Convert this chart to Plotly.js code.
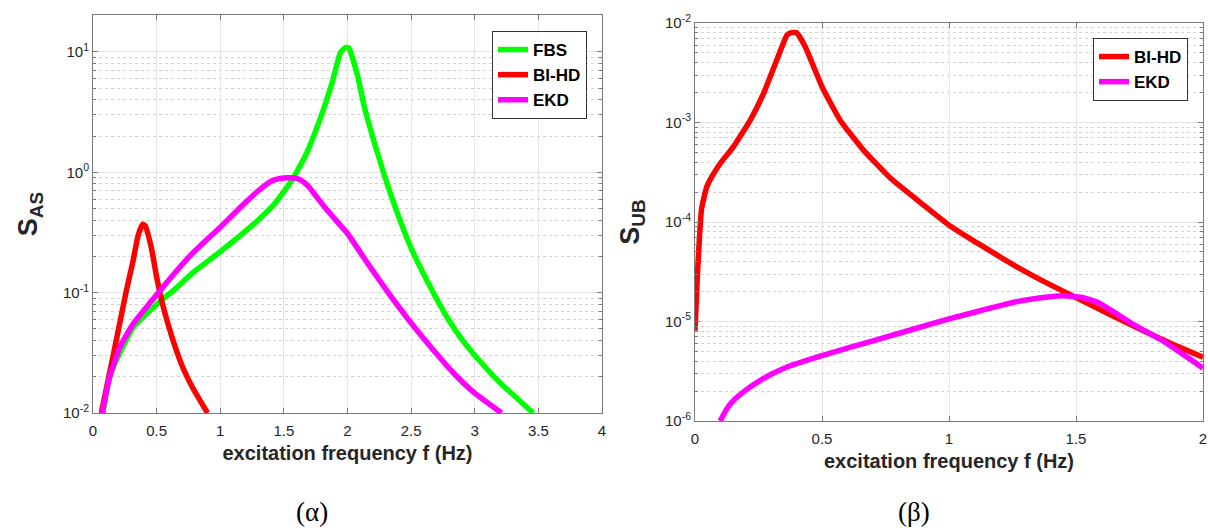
<!DOCTYPE html>
<html>
<head>
<meta charset="utf-8">
<script src="https://cdn.plot.ly/plotly-3.0.1.min.js"></script>
<style>html,body{margin:0;padding:0;background:#fff;}#chart{width:1208px;height:530px;}</style>
</head>
<body>
<div id="chart"></div>
<script>
// ---- Data ----
// Panel (α)
const freqFBS = [0.078, 0.117, 0.157, 0.313, 0.5, 0.653, 0.783, 1.0, 1.175, 1.305, 1.436, 1.567, 1.67, 1.775, 1.88, 1.945, 1.985, 2.01, 2.08, 2.13, 2.21, 2.29, 2.37, 2.5, 2.65, 2.78, 2.9, 3.0, 3.2, 3.46];
const sFBS    = [0.01, 0.0174, 0.0238, 0.051, 0.0796, 0.109, 0.146, 0.219, 0.309, 0.407, 0.562, 0.871, 1.38, 2.6, 5.6, 9.9, 10.9, 10.8, 6.3, 3.58, 1.78, 0.94, 0.53, 0.234, 0.112, 0.063, 0.0407, 0.0302, 0.0178, 0.01];

const freqBIHDa = [0.065, 0.157, 0.261, 0.313, 0.355, 0.39, 0.41, 0.457, 0.50, 0.55, 0.627, 0.705, 0.783, 0.90];
const sBIHDa    = [0.01, 0.0294, 0.1026, 0.18, 0.30, 0.37, 0.36, 0.24, 0.135, 0.0776, 0.0407, 0.024, 0.0162, 0.01];

const freqEKDa = [0.073, 0.13, 0.209, 0.313, 0.5, 0.653, 0.783, 1.0, 1.175, 1.305, 1.41, 1.5, 1.55, 1.6, 1.65, 1.7, 1.75, 1.83, 1.9, 2.0, 2.157, 2.313, 2.5, 2.678, 2.835, 3.0, 3.21];
const sEKDa    = [0.01, 0.0197, 0.035, 0.0545, 0.096, 0.15, 0.213, 0.35, 0.533, 0.71, 0.853, 0.897, 0.9, 0.89, 0.84, 0.75, 0.64, 0.50, 0.41, 0.31, 0.176, 0.1026, 0.056, 0.0331, 0.0214, 0.0146, 0.01];

// Panel (β)
const freqBIHDb = [0, 0.009, 0.026, 0.046, 0.066, 0.099, 0.151, 0.217, 0.27, 0.322, 0.362, 0.38, 0.40, 0.434, 0.5, 0.572, 0.664, 0.77, 0.9, 1.0, 1.13, 1.26, 1.39, 1.5, 1.65, 1.78, 1.9, 2.0];
const sBIHDb    = [8.1e-6, 2.8e-5, 1.36e-4, 2.25e-4, 2.84e-4, 3.87e-4, 5.69e-4, 1.05e-3, 1.96e-3, 4.25e-3, 7.57e-3, 8.0e-3, 8.0e-3, 5.78e-3, 2.29e-3, 1.05e-3, 5.25e-4, 2.75e-4, 1.48e-4, 9.3e-5, 5.75e-5, 3.63e-5, 2.4e-5, 1.74e-5, 1.12e-5, 7.76e-6, 5.62e-6, 4.37e-6];

const freqEKDb = [0.099, 0.125, 0.151, 0.2, 0.243, 0.3, 0.375, 0.5, 0.704, 1.0, 1.127, 1.26, 1.39, 1.45, 1.52, 1.587, 1.65, 1.718, 1.85, 2.0];
const sEKDb    = [1e-6, 1.32e-6, 1.6e-6, 2.04e-6, 2.43e-6, 2.95e-6, 3.59e-6, 4.55e-6, 6.44e-6, 1.06e-5, 1.29e-5, 1.57e-5, 1.76e-5, 1.81e-5, 1.75e-5, 1.55e-5, 1.24e-5, 9.6e-6, 6.2e-6, 3.4e-6];

// Tick labels
const xTicksA = [0, 0.5, 1, 1.5, 2, 2.5, 3, 3.5, 4];
const xTicksB = [0, 0.5, 1, 1.5, 2];
const yExpA = [-2, -1, 0, 1];
const yExpB = [-6, -5, -4, -3, -2];
const legendNamesA = ['FBS', 'BI-HD', 'EKD'];
const legendNamesB = ['BI-HD', 'EKD'];

// ---- Helpers ----
const GREEN = '#00ff00', RED = '#ff0000', MAGENTA = '#ff00ff';
const FONT = '"Liberation Sans", Arial, Helvetica, sans-serif';
function pow10Label(e) { return '10<sup>' + (e < 0 ? '-' : '') + Math.abs(e) + '</sup>'; }
function minorVals(e0, e1) {
  const v = [];
  for (let e = e0; e < e1 + 1; e++) for (let k = 2; k <= 9; k++) v.push(k * Math.pow(10, e));
  return v;
}
const lineStyle = (c) => ({ color: c, width: 5.5, shape: 'spline', smoothing: 0.4 });

const traces = [
  { x: freqFBS, y: sFBS, name: legendNamesA[0], mode: 'lines', line: lineStyle(GREEN), xaxis: 'x', yaxis: 'y', legend: 'legend' },
  { x: freqBIHDa, y: sBIHDa, name: legendNamesA[1], mode: 'lines', line: lineStyle(RED), xaxis: 'x', yaxis: 'y', legend: 'legend' },
  { x: freqEKDa, y: sEKDa, name: legendNamesA[2], mode: 'lines', line: lineStyle(MAGENTA), xaxis: 'x', yaxis: 'y', legend: 'legend' },
  { x: freqBIHDb, y: sBIHDb, name: legendNamesB[0], mode: 'lines', line: lineStyle(RED), xaxis: 'x2', yaxis: 'y2', legend: 'legend2' },
  { x: freqEKDb, y: sEKDb, name: legendNamesB[1], mode: 'lines', line: lineStyle(MAGENTA), xaxis: 'x2', yaxis: 'y2', legend: 'legend2' }
];

const W = 1208, H = 530;
const axisCommon = {
  showline: true, linecolor: '#7a7a7a', linewidth: 1, mirror: 'allticks',
  ticks: 'inside', ticklen: 5, tickcolor: '#7a7a7a',
  tickfont: { family: FONT, size: 15, color: '#262626' },
  showgrid: true, gridcolor: '#e4e4e4', gridwidth: 1, zeroline: false
};
const xTitle = { text: 'excitation frequency f (Hz)', font: { family: FONT, size: 20, color: '#262626', weight: 'bold' }, standoff: 7 };

const layout = {
  width: W, height: H, margin: { l: 0, r: 0, t: 0, b: 0 },
  paper_bgcolor: '#ffffff', plot_bgcolor: '#ffffff', showlegend: true,
  xaxis: Object.assign({}, axisCommon, {
    domain: [93 / W, 602 / W], range: [0, 4], anchor: 'y', ticklabelstandoff: 4,
    tickmode: 'array', tickvals: xTicksA, ticktext: xTicksA.map(String), title: xTitle
  }),
  yaxis: Object.assign({}, axisCommon, {
    domain: [1 - 413 / H, 1 - 15 / H], type: 'log', range: [-2, 1.307], anchor: 'x',
    tickmode: 'array', tickvals: yExpA.map(e => Math.pow(10, e)), ticktext: yExpA.map(pow10Label),
    minor: { tickmode: 'array', tickvals: minorVals(-2, 1), ticks: 'inside', ticklen: 3, tickcolor: '#7a7a7a', showgrid: true, gridcolor: '#d2d2d2', griddash: 'dot', gridwidth: 1 },
    title: { text: 'S<sub>AS</sub>', font: { family: FONT, size: 27, color: '#262626', weight: 'bold' }, standoff: 17 }
  }),
  xaxis2: Object.assign({}, axisCommon, {
    domain: [695 / W, 1203 / W], range: [0, 2], anchor: 'y2', ticklabelstandoff: 4,
    tickmode: 'array', tickvals: xTicksB, ticktext: xTicksB.map(String), title: xTitle
  }),
  yaxis2: Object.assign({}, axisCommon, {
    domain: [1 - 421 / H, 1 - 23 / H], type: 'log', range: [-6, -2], anchor: 'x2',
    tickmode: 'array', tickvals: yExpB.map(e => Math.pow(10, e)), ticktext: yExpB.map(pow10Label),
    minor: { tickmode: 'array', tickvals: minorVals(-6, -3), ticks: 'inside', ticklen: 3, tickcolor: '#7a7a7a', showgrid: true, gridcolor: '#d2d2d2', griddash: 'dot', gridwidth: 1 },
    title: { text: 'S<sub>UB</sub>', font: { family: FONT, size: 27, color: '#262626', weight: 'bold' }, standoff: 17 }
  }),
  legend: {
    x: 587 / W, xanchor: 'right', y: 1 - 31 / H, yanchor: 'top',
    bgcolor: '#ffffff', bordercolor: '#333333', borderwidth: 1,
    font: { family: FONT, size: 17, color: '#000000', weight: 'bold' }, tracegroupgap: 0
  },
  legend2: {
    x: 1188 / W, xanchor: 'right', y: 1 - 38 / H, yanchor: 'top',
    bgcolor: '#ffffff', bordercolor: '#333333', borderwidth: 1,
    font: { family: FONT, size: 17, color: '#000000', weight: 'bold' }, tracegroupgap: 0
  },
  annotations: [
    { text: '(α)', xref: 'paper', yref: 'paper', x: 312 / W, y: 1 - 512 / H, xanchor: 'center', yanchor: 'middle', showarrow: false, font: { family: '"Liberation Serif", "Times New Roman", serif', size: 27, color: '#000000' } },
    { text: '(β)', xref: 'paper', yref: 'paper', x: 914 / W, y: 1 - 512 / H, xanchor: 'center', yanchor: 'middle', showarrow: false, font: { family: '"Liberation Serif", "Times New Roman", serif', size: 27, color: '#000000' } }
  ]
};

Plotly.newPlot('chart', traces, layout, { displayModeBar: false, staticPlot: true });
</script>
</body>
</html>
